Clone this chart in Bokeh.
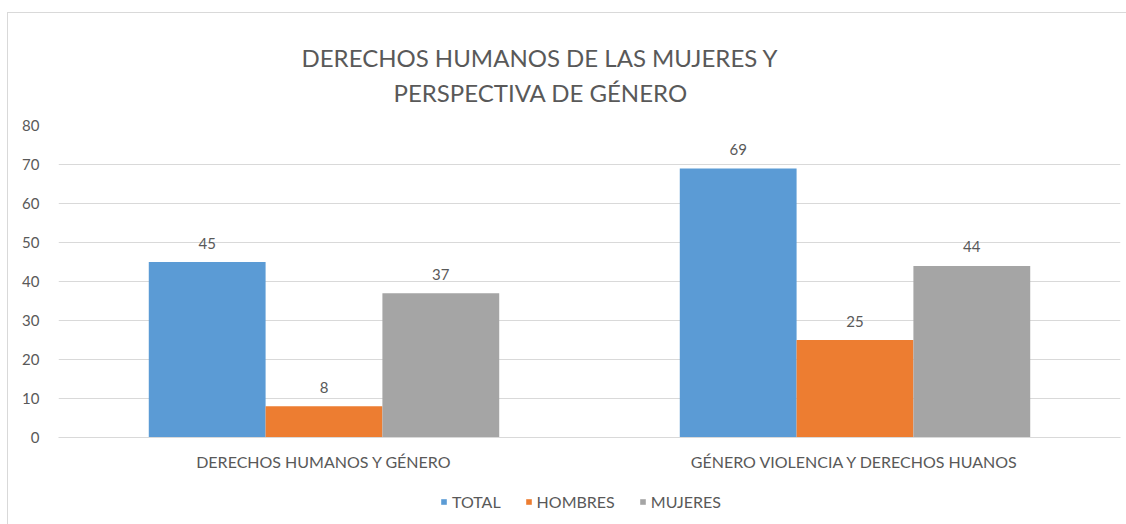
from bokeh.plotting import figure
from bokeh.models import (ColumnDataSource, FactorRange, Range1d, Legend, LegendItem, Title,
                          FixedTicker, InlineStyleSheet)
from bokeh.layouts import column
from bokeh.transform import dodge
from bokeh.core.properties import value
from bokeh.embed import file_html
from bokeh.resources import INLINE

categories = ["DERECHOS HUMANOS Y GÉNERO", "GÉNERO VIOLENCIA Y DERECHOS HUANOS"]
series = ["TOTAL", "HOMBRES", "MUJERES"]
total = [45, 69]
hombres = [8, 25]
mujeres = [37, 44]
y_ticks = [0, 10, 20, 30, 40, 50, 60, 70, 80]
title_line1 = "DERECHOS HUMANOS DE LAS MUJERES Y"
title_line2 = "PERSPECTIVA DE GÉNERO"

colors = ["#5b9bd5", "#ed7d31", "#a5a5a5"]
FONT = "Lato"
TXT = "#595959"

src = ColumnDataSource(dict(cat=categories, TOTAL=total, HOMBRES=hombres, MUJERES=mujeres,
                            lt=[str(v) for v in total], lh=[str(v) for v in hombres],
                            lm=[str(v) for v in mujeres]))

p = figure(x_range=FactorRange(*categories, range_padding=0), y_range=Range1d(0, 80),
           width=1126, height=480, output_backend="svg", toolbar_location=None,
           min_border_left=58, min_border_right=6, min_border_top=125, min_border_bottom=43)
p.title = None
# white spacer (closest to the frame), then line 2, then line 1
p.add_layout(Title(text=".", text_color="#ffffff", text_font=FONT, text_font_size="18px",
                   standoff=0), "above")
p.add_layout(Title(text=title_line2, align="left", offset=335, standoff=5,
                   text_font=FONT, text_font_size="24px", text_font_style="normal",
                   text_color=TXT), "above")
p.add_layout(Title(text=title_line1, align="left", offset=243, standoff=3,
                   text_font=FONT, text_font_size="24px", text_font_style="normal",
                   text_color=TXT), "above")

p.outline_line_color = None
p.background_fill_color = "#ffffff"
p.border_fill_color = "#ffffff"

offs = [-0.22, 0.0, 0.22]
labcols = ["lt", "lh", "lm"]
for s, c, o, lc in zip(series, colors, offs, labcols):
    p.vbar(x=dodge("cat", o, range=p.x_range), top=s, width=0.22, source=src,
           fill_color=c, line_color=None)
    p.text(x=dodge("cat", o, range=p.x_range), y=s, text=lc, source=src,
           text_align="center", text_baseline="middle", y_offset=-19,
           text_font=value(FONT), text_font_size="15px", text_color=TXT)

p.yaxis.ticker = FixedTicker(ticks=y_ticks)
p.yaxis.axis_line_color = None
p.yaxis.major_tick_line_color = None
p.yaxis.minor_tick_line_color = None
p.yaxis.major_label_text_font = FONT
p.yaxis.major_label_text_font_size = "15px"
p.yaxis.major_label_text_color = TXT
p.yaxis.major_label_standoff = 13

p.xaxis.axis_line_color = "#d9d9d9"
p.xaxis.major_tick_line_color = None
p.xaxis.minor_tick_line_color = None
p.xaxis.major_label_text_font = FONT
p.xaxis.major_label_text_font_size = "16px"
p.xaxis.major_label_text_color = TXT
p.xaxis.major_label_standoff = 8

p.xgrid.grid_line_color = None
p.ygrid.grid_line_color = "#d9d9d9"
p.ygrid.ticker = FixedTicker(ticks=y_ticks)

# legend strip below the chart
lf = figure(width=1126, height=44, x_range=Range1d(0, 1), y_range=Range1d(0, 1),
            output_backend="svg", toolbar_location=None,
            min_border=0, min_border_left=0, min_border_right=0, min_border_top=0, min_border_bottom=0)
lf.axis.visible = False
lf.grid.visible = False
lf.outline_line_color = None
lf.background_fill_color = "#ffffff"
lf.border_fill_color = "#ffffff"
lrs = [lf.vbar(x=[-10], top=[-10], width=0.1, fill_color=c, line_color=None) for c in colors]
legend = Legend(items=[LegendItem(label=s, renderers=[r]) for s, r in zip(series, lrs)],
                orientation="horizontal", location=(382, 13),
                label_text_font=FONT, label_text_font_size="16px", label_text_color=TXT,
                glyph_width=7, glyph_height=7, spacing=24, label_standoff=5,
                border_line_color=None, background_fill_alpha=0, padding=2, margin=0)
lf.add_layout(legend, "center")

frame_css = InlineStyleSheet(css="""
:host { position: relative; }
:host::after {
  content: ""; position: absolute; left: 7px; top: 12px; right: 0; bottom: 0;
  border-left: 1px solid #d9d9d9; border-top: 1px solid #d9d9d9;
  pointer-events: none; z-index: 10;
}
""")
layout = column(p, lf, spacing=0, stylesheets=[frame_css])
open("out.html", "w").write(file_html(layout, INLINE))
